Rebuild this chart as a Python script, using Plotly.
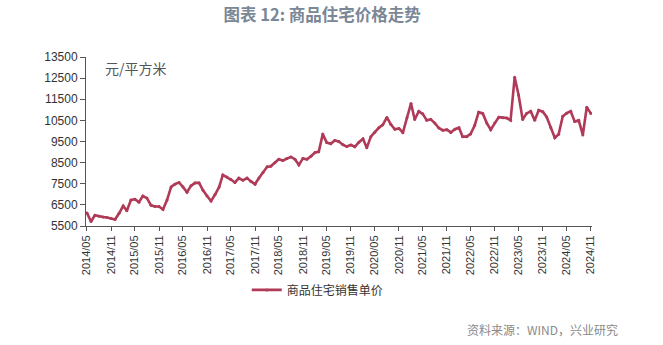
import plotly.graph_objects as go
import pandas as pd

# Monthly average sales price of commercial housing, 2014/05 - 2024/11 (yuan per square metre)
start_month = "2014-05-01"
price = [
    6120, 5710, 6010, 5960, 5930, 5900, 5860, 5810, 6100, 6450,
    6220, 6730, 6770, 6630, 6920, 6820, 6480, 6420, 6420, 6280,
    6730, 7350, 7480, 7560, 7350, 7100, 7400, 7540, 7540, 7190,
    6920, 6680, 6990, 7350, 7920, 7820, 7700, 7560, 7770, 7660,
    7770, 7610, 7480, 7770, 8030, 8300, 8330, 8490, 8660, 8600,
    8700, 8770, 8660, 8390, 8700, 8660, 8800, 8980, 9010, 9850,
    9450, 9390, 9550, 9500, 9350, 9260, 9340, 9250, 9470, 9630,
    9200, 9730, 9940, 10150, 10290, 10640, 10300, 10080, 10120, 9920,
    10620, 11300, 10540, 10930, 10810, 10500, 10550, 10370, 10140, 10030,
    10060, 9930, 10080, 10150, 9730, 9730, 9860, 10270, 10890, 10830,
    10370, 10060, 10370, 10650, 10630, 10610, 10500, 12540, 11700, 10540,
    10830, 10930, 10500, 10980, 10910, 10660, 10160, 9680, 9840, 10690,
    10840, 10930, 10450, 10500, 9810, 11120, 10830,
]
months = pd.date_range(start_month, periods=len(price), freq="MS")

tick_dates = pd.date_range("2014-05-01", "2024-11-01", freq="6MS")
tick_labels = [d.strftime("%Y/%m") for d in tick_dates]
y_ticks = list(range(5500, 13501, 1000))

series_name = "商品住宅销售单价"
line_color = "#B03A57"
cjk = "Noto Sans CJK SC"

fig = go.Figure()
fig.add_trace(go.Scatter(
    x=months, y=price, mode="lines+markers", name=series_name,
    line=dict(color=line_color, width=2.6),
    marker=dict(size=3, color=line_color),
))

fig.update_layout(
    width=663, height=345,
    margin=dict(l=86, r=71, t=57, b=119),
    paper_bgcolor="white", plot_bgcolor="white",
    title=dict(
        text="<b>图表 12: 商品住宅价格走势</b>",
        x=0.486, xanchor="center", y=1 - 15 / 345, yanchor="middle",
        font=dict(family=cjk, size=16.5, color="#7A8797"),
    ),
    showlegend=True,
    legend=dict(
        orientation="h", x=0.458, xanchor="center", y=-0.378, yanchor="middle",
        font=dict(family=cjk, size=12, color="#333333"),
        bgcolor="rgba(0,0,0,0)",
    ),
    xaxis=dict(
        range=["2014-04-24", "2024-11-10"],
        tickmode="array", tickvals=tick_dates, ticktext=tick_labels,
        tickangle=-90, ticks="outside", ticklen=4, tickcolor="#555555",
        showline=True, linecolor="#555555", linewidth=1,
        showgrid=False, zeroline=False,
        tickfont=dict(family="Liberation Sans, Arial", size=11, color="#333333"),
    ),
    yaxis=dict(
        range=[5500, 13500],
        tickmode="array", tickvals=y_ticks, tickformat="d",
        ticks="outside", ticklen=5, tickcolor="#555555",
        showline=True, linecolor="#555555", linewidth=1,
        showgrid=False, zeroline=False,
        tickfont=dict(family="Liberation Sans, Arial", size=12, color="#333333"),
    ),
    annotations=[
        dict(
            text="元/平方米", xref="paper", yref="paper",
            x=0.034, y=0.933, xanchor="left", yanchor="middle",
            showarrow=False, font=dict(family=cjk, size=14, color="#555555"),
        ),
        dict(
            text="资料来源：WIND，兴业研究", xref="paper", yref="paper",
            x=1.055, y=-0.614, xanchor="right", yanchor="middle",
            showarrow=False, font=dict(family=cjk, size=12, color="#8A8A8A"),
        ),
    ],
)

fig.write_html("out.html")
